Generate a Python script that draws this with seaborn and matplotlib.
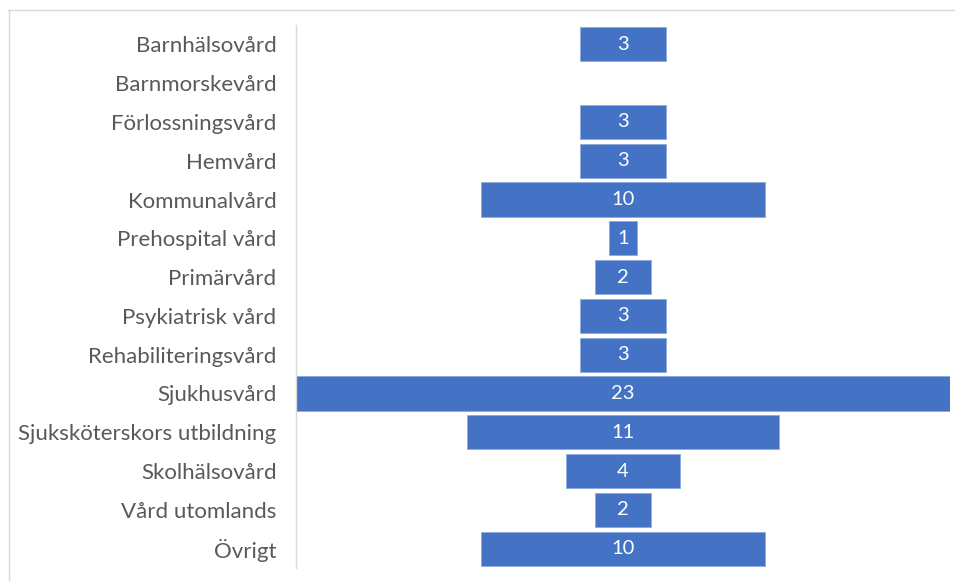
import matplotlib
matplotlib.use("Agg")
import matplotlib.pyplot as plt
import seaborn as sns
import pandas as pd
from matplotlib.lines import Line2D

categories = [
    "Barnhälsovård", "Barnmorskevård", "Förlossningsvård", "Hemvård",
    "Kommunalvård", "Prehospital vård", "Primärvård", "Psykiatrisk vård",
    "Rehabiliteringsvård", "Sjukhusvård", "Sjuksköterskors utbildning",
    "Skolhälsovård", "Vård utomlands", "Övrigt",
]
counts = [3, 0, 3, 3, 10, 1, 2, 3, 3, 23, 11, 4, 2, 10]

df = pd.DataFrame({"kategori": categories, "antal": counts})

sns.set_theme(style="white")
plt.rcParams["font.family"] = ["Lato", "DejaVu Sans"]

fig = plt.figure(figsize=(9.55, 5.81), dpi=100)
ax = fig.add_axes([296 / 955, 1 - 568 / 581, (950 - 296) / 955, (568 - 25) / 581])

bar_color = "#4472C4"
# Centred bars: offset every bar by half its own length
bars = ax.barh(df["kategori"], df["antal"], left=-df["antal"] / 2, height=0.88,
               color=bar_color, edgecolor="#8FAADC", linewidth=0.6)
for b, v in zip(bars, df["antal"]):
    if v == 0:
        b.set_visible(False)

for i, v in enumerate(df["antal"]):
    if v > 0:
        ax.text(0, i, str(v), ha="center", va="center", color="white", fontsize=14.5)

ax.set_xlim(-11.5, 11.5)
ax.set_ylim(len(categories) - 0.5, -0.5)
ax.set_xticks([])
ax.set_ylabel("")
ax.set_xlabel("")
ax.tick_params(axis="y", length=0, pad=14, labelsize=16, labelcolor="#595959")
for s in ["top", "right", "bottom"]:
    ax.spines[s].set_visible(False)
ax.spines["left"].set_color("#D9D9D9")
ax.spines["left"].set_linewidth(1.0)

# Chart area border (top and left edges)
fig.add_artist(Line2D([8 / 955, 1], [1 - 9.5 / 581] * 2, color="#D9D9D9", lw=1.0,
                      transform=fig.transFigure))
fig.add_artist(Line2D([8.5 / 955] * 2, [0, 1 - 9.5 / 581], color="#D9D9D9", lw=1.0,
                      transform=fig.transFigure))

fig.savefig("out.png", dpi=100, facecolor="white")
